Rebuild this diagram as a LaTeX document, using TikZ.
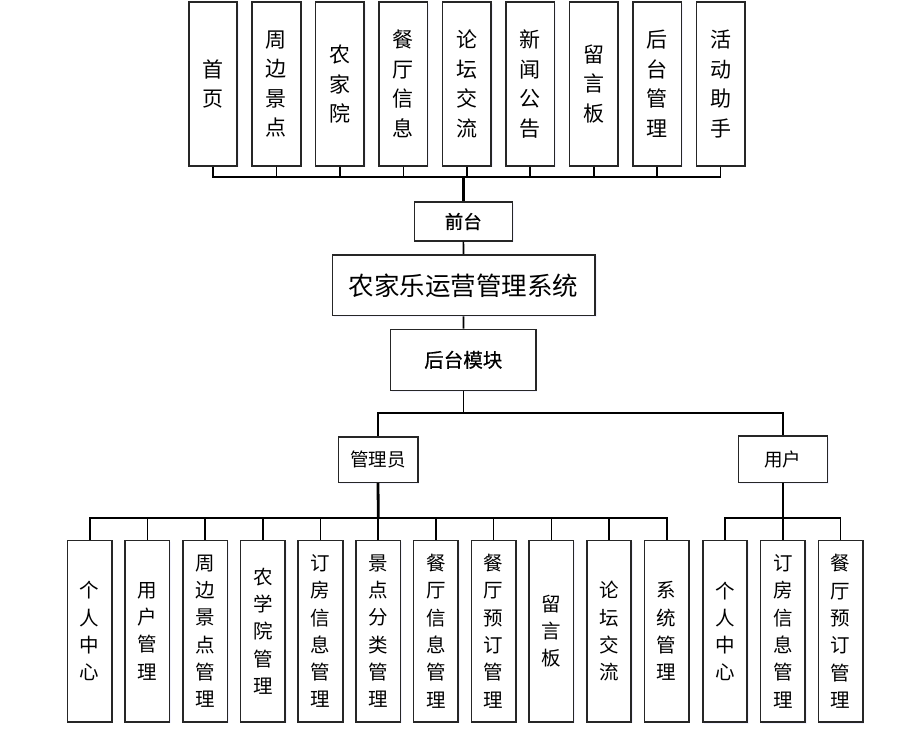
\documentclass[tikz,border=0pt]{standalone}
\usepackage{fontspec}
\setmainfont{Noto Sans CJK SC}
\newfontfamily\midfont[FakeBold=0.6]{Noto Sans CJK SC}
\usetikzlibrary{shadows}

\tikzset{
  box/.style={draw=black!85, line width=1.6pt, fill=white, align=center, inner sep=0pt,
    drop shadow={shadow xshift=1.5pt, shadow yshift=-1.5pt, fill=blue!40, opacity=0.12}},
  topbox/.style={box, minimum width=48.5pt, minimum height=163.5pt, font=\fontsize{21}{29.5}\selectfont},
  subbox/.style={box, minimum width=44.5pt, minimum height=181.5pt, font=\fontsize{19.5}{27.3}\selectfont},
  link/.style={line width=1.6pt},
  trunk/.style={line width=2.8pt},
}

\begin{document}
\begin{tikzpicture}[x=1pt, y=-1pt]
  \useasboundingbox (0,0) rectangle (920,736);

  % front end modules
  \foreach \lbl [count=\i] in {{首\\页},{周\\边\\景\\点},{农\\家\\院},{餐\\厅\\信\\息},{论\\坛\\交\\流},
      {新\\闻\\公\\告},{留\\言\\板},{后\\台\\管\\理},{活\\动\\助\\手}}
    \node[topbox] (t\i) at ({213+63.45*(\i-1)},84) {\lbl};

  \node[box, minimum width=98pt, minimum height=38.5pt, font=\midfont\fontsize{18.5}{20}\selectfont] (qt) at (463.3,221.5) {前台};
  \node[box, minimum width=262.7pt, minimum height=60.7pt, font=\fontsize{25.5}{28}\selectfont] (sys) at (463.7,285.3) {农家乐运营管理系统};
  \node[box, minimum width=145.3pt, minimum height=61pt, font=\midfont\fontsize{19.5}{20}\selectfont] (ht) at (463.3,359.8) {后台模块};

  \node[box, minimum width=79.4pt, minimum height=45.6pt, font=\fontsize{18.5}{20}\selectfont] (gly) at (378,459.5) {管理员};
  \node[box, minimum width=89pt, minimum height=46.3pt, font=\fontsize{18.5}{20}\selectfont] (yh) at (782.8,459.2) {用户};

  % admin modules
  \foreach \lbl [count=\i] in {{个\\人\\中\\心},{用\\户\\管\\理},{周\\边\\景\\点\\管\\理},{农\\学\\院\\管\\理},
      {订\\房\\信\\息\\管\\理},{景\\点\\分\\类\\管\\理},{餐\\厅\\信\\息\\管\\理},{餐\\厅\\预\\订\\管\\理},
      {留\\言\\板},{论\\坛\\交\\流},{系\\统\\管\\理}}
    \node[subbox] (a\i) at ({89.7+57.7*(\i-1)},631.2) {\lbl};

  % user modules
  \foreach \lbl [count=\i] in {{个\\人\\中\\心},{订\\房\\信\\息\\管\\理},{餐\\厅\\预\\订\\管\\理}}
    \node[subbox] (u\i) at ({725+57.8*(\i-1)},631.4) {\lbl};

  % connectors
  \coordinate (fbus) at (463.3,177);
  \foreach \i in {1,...,9}
    \draw[link] (t\i.south) |- (fbus);
  \draw[trunk] (fbus) -- (qt.north);
  \draw[link] (qt) -- (sys);
  \draw[link] (sys) -- (ht);

  \coordinate (mbus) at (463.3,412.7);
  \draw[link] (ht.south) -- (mbus);
  \draw[link] (mbus) -| (gly.north);
  \draw[link] (mbus) -| (yh.north);

  \coordinate (abus) at (378.3,518);
  \draw[trunk] (gly.south) -- (abus);
  \foreach \i in {1,...,11}
    \draw[link] (a\i.north) |- (abus);

  \coordinate (ubus) at (782.8,518);
  \draw[link, line width=2pt] (yh.south) -- (ubus);
  \foreach \i in {1,...,3}
    \draw[link] (u\i.north) |- (ubus);
\end{tikzpicture}
\end{document}
